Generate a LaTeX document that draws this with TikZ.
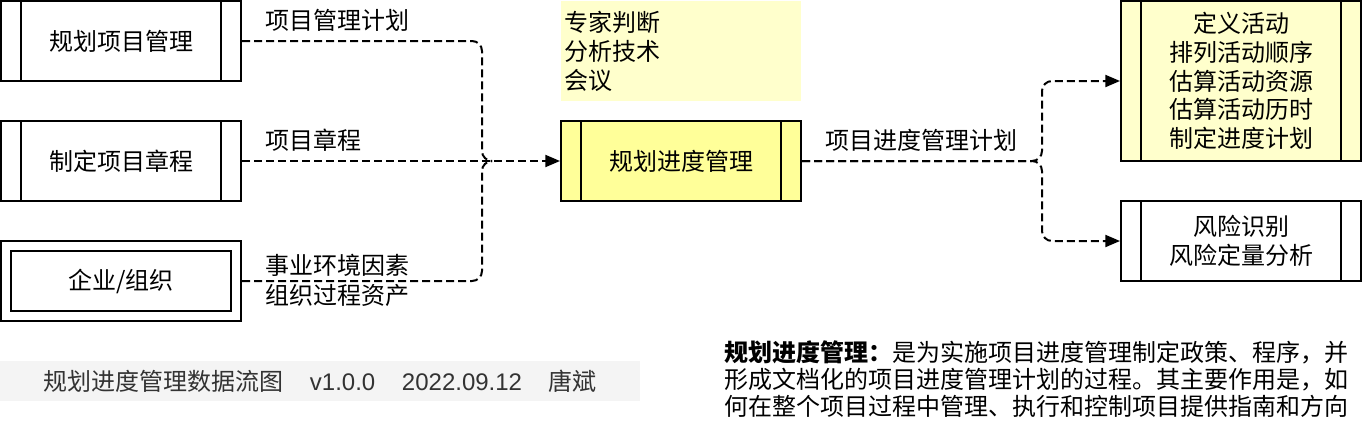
\documentclass[tikz,border=0pt]{standalone}
\usepackage{fontspec}
\setmainfont{Noto Sans CJK SC}
\newfontfamily\latinfont{Liberation Sans}
\usetikzlibrary{arrows.meta}
\definecolor{procyellow}{HTML}{FFFF99}
\definecolor{paleyellow}{HTML}{FFFFCC}
\definecolor{footgray}{HTML}{F4F4F4}
\definecolor{foottext}{HTML}{333333}
\begin{document}
\begin{tikzpicture}[x=0.75pt,y=-0.75pt,
  font=\fontsize{18pt}{21.5pt}\selectfont,
  proc/.style={draw, line width=1.5pt, minimum width=180pt, minimum height=60pt,
    inner sep=0pt, align=center,
    path picture={
      \draw[line width=1.5pt] ([xshift=15pt]path picture bounding box.north west) -- ([xshift=15pt]path picture bounding box.south west);
      \draw[line width=1.5pt] ([xshift=-15pt]path picture bounding box.north east) -- ([xshift=-15pt]path picture bounding box.south east);
    }},
  ent/.style={draw, line width=1.5pt, minimum width=180pt, minimum height=60pt,
    inner sep=0pt, align=center,
    path picture={
      \draw[line width=1.5pt] ([shift={(7.5pt,-7.5pt)}]path picture bounding box.north west) rectangle ([shift={(-7.5pt,7.5pt)}]path picture bounding box.south east);
    }},
  flowline/.style={line width=1.5pt, dash pattern=on 6pt off 3pt, rounded corners=7.5pt},
  flow/.style={flowline, -{Triangle[length=11pt,width=9pt]}},
  lbl/.style={anchor=west, inner sep=0pt, align=left}]

\useasboundingbox (0,0) rectangle (1362,432);

% left boxes
\node[proc] (plan) at (121,41) {规划项目管理};
\node[proc] (charter) at (121,161) {制定项目章程};
\node[ent] (org) at (121,281) {企业/组织};

% tools note
\node[fill=paleyellow, minimum width=180pt, minimum height=75pt, text width=175pt,
  inner xsep=2.5pt, inner ysep=0pt, align=left, anchor=north west,
  font=\fontsize{18pt}{21.75pt}\selectfont] (tools) at (561,1) {专家判断\\分析技术\\会议};

% center process
\node[proc, fill=procyellow] (sched) at (681,161) {规划进度管理};

% right boxes
\node[proc, fill=paleyellow, minimum height=120pt] (acts) at (1241,81)
  {定义活动\\排列活动顺序\\估算活动资源\\估算活动历时\\制定进度计划};
\node[proc] (risk) at (1241,241) {风险识别\\风险定量分析};

% connectors
\coordinate (merge) at (491,161);
\draw[flowline] (plan.east) -- ++(240,0) |- (merge);
\draw[flowline] (org.east) -- ++(240,0) |- (merge);
\draw[flow] (charter.east) -- (sched.west);
\draw[flow] (sched.east) -- ++(240,0) |- (acts.west);
\draw[flow] (sched.east) -- ++(240,0) |- (risk.west);

% labels
\node[lbl] (l1) at (265,20) {项目管理计划};
\node[lbl] (l2) at (265,140) {项目章程};
\node[lbl, font=\fontsize{18pt}{22.5pt}\selectfont] (l3) at (265,280) {事业环境因素\\组织过程资产};
\node[lbl] (l4) at (825,140) {项目进度管理计划};

% footer
\node[fill=footgray, minimum width=480pt, minimum height=30pt, inner sep=0pt, anchor=north west] (footband) at (0,361) {};
\node[anchor=west, inner sep=0pt, text=foottext] (foottext) at (43,381)
  {规划进度管理数据流图\hspace{20pt}{\latinfont v1.0.0}\hspace{20pt}{\latinfont 2022.09.12}\hspace{20pt}唐斌};

% description
\node[anchor=north west, inner sep=0pt, align=left, font=\fontsize{18pt}{20.25pt}\selectfont] (desc) at (724,340)
  {{\bfseries 规划进度管理：}是为实施项目进度管理制定政策、程序，并\\形成文档化的项目进度管理计划的过程。其主要作用是，如\\何在整个项目过程中管理、执行和控制项目提供指南和方向};
\end{tikzpicture}
\end{document}
